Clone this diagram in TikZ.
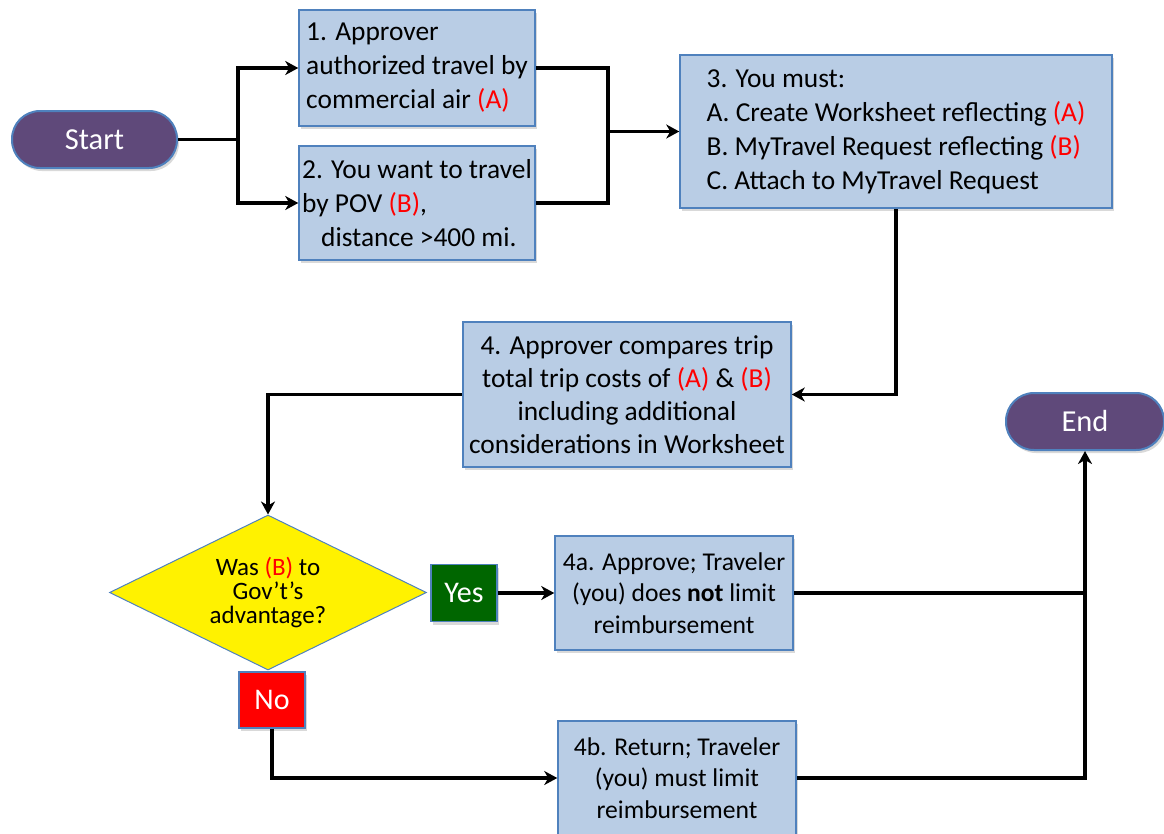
\documentclass[tikz,border=0pt]{standalone}
\usepackage{fontspec}
\setmainfont{Carlito}
\usetikzlibrary{arrows.meta,shapes.geometric,shadows}
\definecolor{boxfill}{HTML}{B9CDE5}
\definecolor{boxline}{HTML}{4F81BD}
\definecolor{termfill}{HTML}{5F497A}
\definecolor{yesfill}{HTML}{006600}
\definecolor{rdtext}{HTML}{FF0000}
\newcommand{\rd}[1]{\textcolor{rdtext}{#1}}
\tikzset{
    shade/.style={drop shadow={shadow xshift=2pt, shadow yshift=-3pt, opacity=0.3}},
    procbox/.style={rectangle, draw=boxline, line width=1.5pt, fill=boxfill, inner sep=1pt, shade,
        font=\fontsize{27.4pt}{34pt}\selectfont},
    subbox/.style={procbox, align=center, minimum width=238pt, minimum height=114pt,
        font=\fontsize{25.6pt}{31.5pt}\selectfont},
    termnode/.style={rectangle, rounded corners=28pt, draw=boxline, line width=2pt, fill=termfill,
        text=white, minimum width=165pt, minimum height=57pt, shade, font=\fontsize{30.5pt}{36pt}\selectfont},
    decbox/.style={diamond, aspect=2, draw=boxline, line width=1pt, fill=yellow, inner sep=0pt,
        minimum width=317pt, minimum height=155pt, align=center, font=\fontsize{25pt}{24pt}\selectfont},
    yesbox/.style={rectangle, draw=boxline, line width=1.5pt, fill=yesfill, text=white, minimum width=66pt,
        minimum height=57pt, shade, font=\fontsize{30pt}{36pt}\selectfont},
    nobox/.style={yesbox, fill=red, minimum height=56pt},
    conn/.style={line width=3.5pt},
    arr/.style={conn, -{Stealth[length=13pt, width=14pt, inset=4pt]}}
}

\begin{document}
\begin{tikzpicture}[x=1pt, y=-1pt]
    \useasboundingbox (0,0) rectangle (1164,833);
    \node[termnode] (start) at (94.5,139.5) {Start};
    \node[procbox, minimum width=236pt, minimum height=116pt, align=left] (b1) at (417,68)
        {1. Approver\\authorized travel by\\commercial air \rd{(A)}};
    \node[procbox, minimum width=236pt, minimum height=114pt, align=left] (b2) at (417,203)
        {2. You want to travel\\by POV \rd{(B)},\\\hspace*{19pt}distance >400 mi.};
    \node[procbox, minimum width=432pt, minimum height=153pt, align=left] (b3) at (896,131.5)
        {3. You must:\\A. Create Worksheet reflecting \rd{(A)}\\B. MyTravel Request reflecting \rd{(B)}\\C. Attach to MyTravel Request};
    \node[procbox, minimum width=328pt, minimum height=145pt, align=center,
        font=\fontsize{27.4pt}{33pt}\selectfont] (b4) at (627,394.5)
        {4. Approver compares trip\\total trip costs of \rd{(A)} \& \rd{(B)}\\including additional\\considerations in Worksheet};
    \node[decbox] (dec) at (268,592.5) {Was \rd{(B)} to\\Gov’t’s\\advantage?};
    \node[yesbox] (yes) at (464,593) {Yes};
    \node[nobox] (no) at (272,700) {No};
    \node[subbox] (b4a) at (674,593) {4a. Approve; Traveler\\(you) does \textbf{not} limit\\reimbursement};
    \node[subbox] (b4b) at (677,778) {4b. Return; Traveler\\(you) must limit\\reimbursement};
    \node[termnode, minimum width=158pt] (endn) at (1085,421.5) {End};

    \coordinate (split) at (238,139.5);
    \coordinate (merge) at (608,131.5);
    \draw[conn] (start.east) -- (split);
    \draw[arr] (split) |- (b1.west);
    \draw[arr] (split) |- (b2.west);
    \draw[conn] (b1.east) -| (merge);
    \draw[conn] (b2.east) -| (merge);
    \draw[arr] (merge) -- (b3.west);
    \draw[arr] (b3.south) |- (b4.east);
    \draw[arr] (b4.west) -| (dec.north);
    \draw[arr] (yes.east) -- (b4a.west);
    \draw[arr] (no.south) |- (b4b.west);
    \draw[conn] (b4a.east) -- (b4a.east -| endn.south);
    \draw[arr] (b4b.east) -| (endn.south);
\end{tikzpicture}
\end{document}
